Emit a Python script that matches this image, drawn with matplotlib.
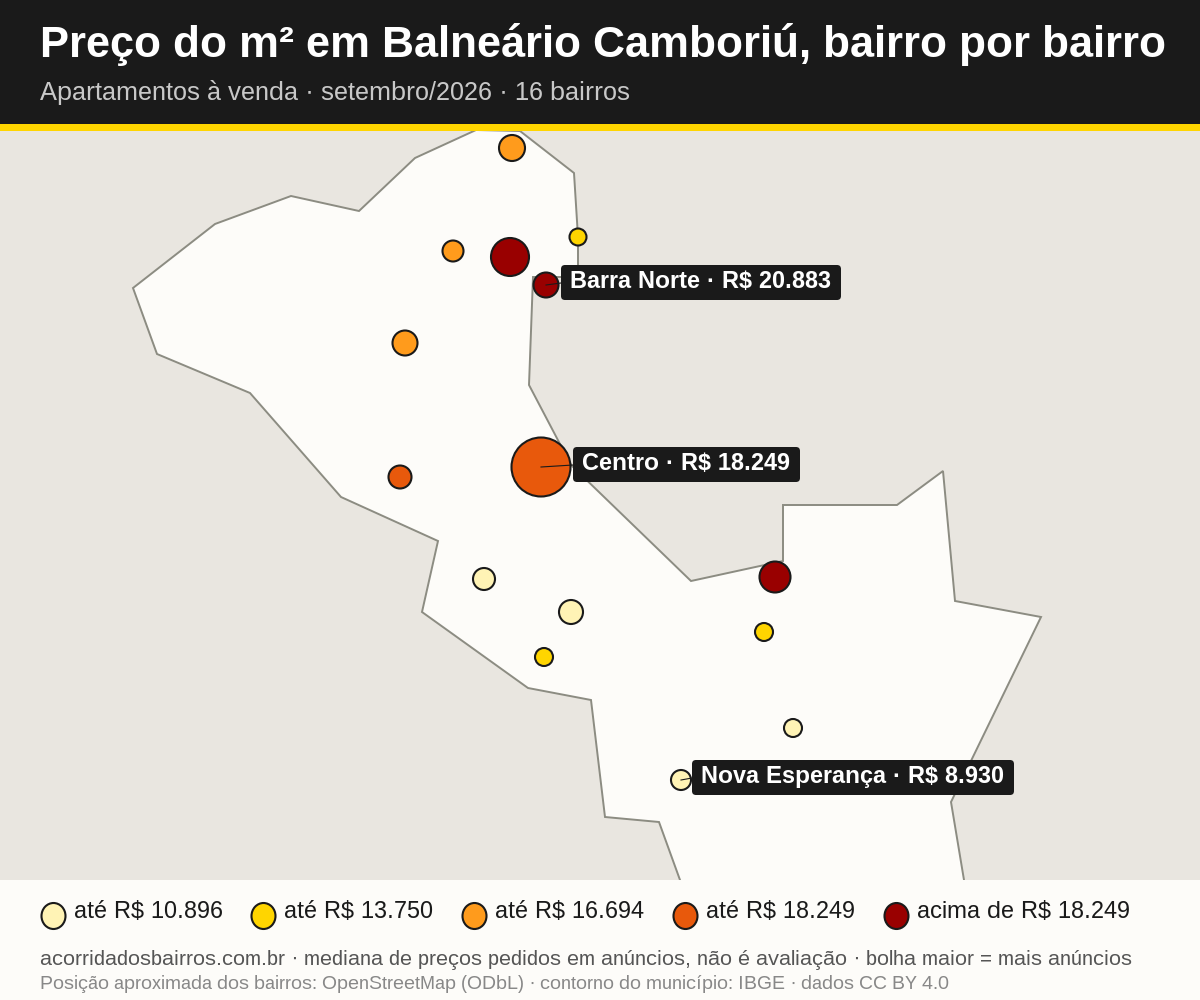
import matplotlib
matplotlib.use("Agg")
from matplotlib import pyplot as plt
from matplotlib.patches import Ellipse, FancyBboxPatch, Polygon, Rectangle

plt.rcParams['font.family'] = ['Liberation Sans', 'DejaVu Sans']
plt.rcParams['text.hinting'] = 'native'
plt.rcParams['text.hinting_factor'] = 1

# contorno do municipio (coordenadas do mapa)
contorno_x = [415, 476, 520, 574, 578, 578, 533, 529, 571, 691, 783, 783, 897, 943, 955, 1041,
              951, 969, 690, 680, 659, 605, 591, 528, 422, 438, 341, 250, 157, 133, 215, 291, 359]
contorno_y = [158, 130, 131, 173, 237, 277, 277, 385, 465, 581, 561, 505, 505, 471, 601, 617,
              802, 910, 910, 880, 822, 817, 700, 688, 612, 541, 497, 393, 354, 288, 224, 196, 211]

# bolhas dos bairros
bairro_x = [512, 578, 453, 510, 546, 405, 541, 400, 484, 571, 775, 764, 544, 793, 681]
bairro_y = [148, 237, 251, 257, 285, 343, 467, 477, 579, 612, 577, 632, 657, 728, 780]
bairro_d = [26, 17, 21, 38, 25, 25, 59, 23, 22, 24, 31, 18, 18, 18, 20]
bairro_classe = [2, 1, 2, 4, 4, 2, 3, 3, 0, 0, 4, 1, 1, 0, 0]

cores = ["#FFF3B5", "#FFD500", "#FF9B1C", "#E8590C", "#990000"]
legenda = ["até R$ 10.896", "até R$ 13.750", "até R$ 16.694", "até R$ 18.249", "acima de R$ 18.249"]
legenda_x = [53, 263, 474, 685, 896]

rotulos = ["Barra Norte · R$ 20.883", "Centro · R$ 18.249", "Nova Esperança · R$ 8.930"]
rotulo_x = [570, 582, 701]
rotulo_base = [288, 470, 783]
rotulo_bairro = [4, 6, 14]

PX = 0.72  # 1 px em pontos, com dpi=100

fig = plt.figure(figsize=(12, 10), dpi=100)
ax = fig.add_axes([0, 0, 1, 1])
ax.set_xlim(0, 1200)
ax.set_ylim(1000, 0)
ax.axis("off")

ax.add_patch(Rectangle((0, 0), 1200, 1000, fc="#E9E6E0", ec="none", zorder=0))
ax.add_patch(Polygon(list(zip(contorno_x, contorno_y)), closed=True, fc="#FDFCF9", ec="#8C8C82",
                     lw=1.5 * PX * 1.3, zorder=1))

ax.scatter(bairro_x, bairro_y, s=[(d * PX) ** 2 for d in bairro_d],
           c=[cores[c] for c in bairro_classe], edgecolors="#1A1A1A", linewidths=1.5, zorder=3)

# rotulos: caixa medida a partir do texto, linha ate o centro da bolha
renderer = fig.canvas.get_renderer()
for txt, x, y, i in zip(rotulos, rotulo_x, rotulo_base, rotulo_bairro):
    t = ax.text(x, y, txt, color="#FFFFFF", fontsize=24 * PX, fontweight="bold", ha="left", va="baseline", zorder=5)
    w = t.get_window_extent(renderer).width
    ax.add_patch(FancyBboxPatch((x - 9, y - 23), w + 19, 35, boxstyle="round,pad=0,rounding_size=4",
                                fc="#1A1A1A", ec="none", zorder=4.5))
    ax.plot([bairro_x[i], x - 9], [bairro_y[i], y - 5], color="#1A1A1A", lw=0.8, zorder=4)

# cabecalho
ax.add_patch(Rectangle((0, 0), 1200, 124, fc="#1A1A1A", ec="none", zorder=6))
ax.add_patch(Rectangle((0, 124), 1200, 7, fc="#FFD500", ec="none", zorder=6))
ax.text(40, 57, "Preço do m² em Balneário Camboriú, bairro por bairro", color="#FFFFFF",
        fontsize=44.4 * PX, fontweight="bold", ha="left", va="baseline", zorder=7)
ax.text(40, 100, "Apartamentos à venda · setembro/2026 · 16 bairros", color="#C8C8C8",
        fontsize=25.9 * PX, ha="left", va="baseline", zorder=7)

# rodape
ax.add_patch(Rectangle((0, 880), 1200, 120, fc="#FDFCF9", ec="none", zorder=6))
for x, cor, txt in zip(legenda_x, cores, legenda):
    ax.add_patch(Ellipse((x + 0.5, 916), 24, 26, fc=cor, ec="#1A1A1A", lw=1.5, zorder=7))
    ax.text(x + 21, 918, txt, color="#1A1A1A", fontsize=23.9 * PX, ha="left", va="baseline", zorder=7)
ax.text(40, 965, "acorridadosbairros.com.br · mediana de preços pedidos em anúncios, não é avaliação · bolha maior = mais anúncios",
        color="#555555", fontsize=21.1 * PX, ha="left", va="baseline", zorder=7)
ax.text(40, 989, "Posição aproximada dos bairros: OpenStreetMap (ODbL) · contorno do município: IBGE · dados CC BY 4.0",
        color="#888888", fontsize=19.4 * PX, ha="left", va="baseline", zorder=7)

fig.savefig("out.png", dpi=100)
